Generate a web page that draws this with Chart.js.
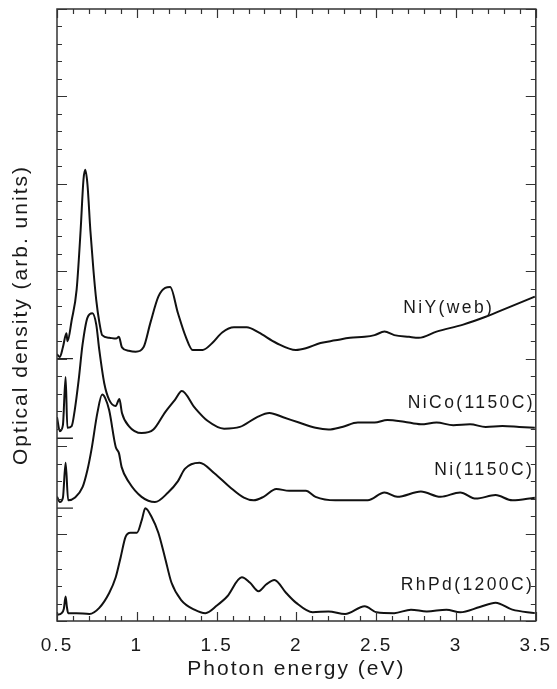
<!DOCTYPE html>
<html>
<head>
<meta charset="utf-8">
<script src="https://cdn.jsdelivr.net/npm/chart.js@4.4.1/dist/chart.umd.min.js"></script>
<style>
  html, body { margin: 0; padding: 0; background: #fff; }
  #box { width: 557px; height: 689px; }
</style>
</head>
<body>
<div id="box">
  <canvas id="myChart" width="557" height="689"></canvas>
</div>
<script>
// ---- data (photon energy in eV, optical density offset per curve) ----
const niyE = [0.5,0.518,0.537,0.559,0.566,0.592,0.623,0.648,0.666,0.677,0.691,0.709,0.728,0.746,0.765,0.783,0.827,0.870,0.888,0.907,0.950,0.993,1.042,1.085,1.135,1.178,1.209,1.258,1.307,1.350,1.412,1.473,1.535,1.609,1.689,1.763,1.874,1.997,2.059,2.151,2.244,2.336,2.428,2.490,2.552,2.613,2.706,2.767,2.878,3.045,3.186,3.334,3.494];
const niyOD = [3.05,3.02,3.13,3.29,3.20,3.44,3.79,4.47,5.05,5.16,4.99,4.47,4.02,3.67,3.42,3.27,3.24,3.23,3.25,3.13,3.09,3.08,3.13,3.41,3.71,3.81,3.82,3.52,3.25,3.10,3.10,3.18,3.30,3.36,3.36,3.30,3.18,3.10,3.12,3.18,3.21,3.24,3.25,3.27,3.31,3.27,3.25,3.24,3.31,3.39,3.48,3.59,3.71];

const nicoE = [0.5,0.518,0.537,0.554,0.565,0.592,0.611,0.636,0.660,0.691,0.722,0.746,0.765,0.796,0.827,0.868,0.891,0.907,0.950,1.030,1.104,1.178,1.239,1.282,1.363,1.443,1.547,1.646,1.751,1.831,1.917,2.016,2.120,2.201,2.287,2.385,2.490,2.570,2.675,2.780,2.878,2.983,3.088,3.186,3.291,3.396,3.494];
const nicoOD = [2.33,2.17,2.24,2.79,2.21,2.23,2.41,2.76,3.16,3.47,3.52,3.39,3.10,2.72,2.53,2.46,2.54,2.38,2.23,2.15,2.19,2.39,2.53,2.63,2.44,2.29,2.20,2.22,2.33,2.38,2.33,2.27,2.21,2.19,2.22,2.27,2.27,2.30,2.28,2.25,2.27,2.24,2.25,2.22,2.23,2.22,2.21];

const niE = [0.5,0.518,0.537,0.554,0.570,0.611,0.660,0.691,0.716,0.753,0.783,0.802,0.827,0.868,0.888,0.905,0.950,1.030,1.114,1.196,1.258,1.301,1.393,1.486,1.584,1.671,1.732,1.794,1.874,1.954,2.059,2.120,2.244,2.348,2.447,2.552,2.632,2.780,2.903,3.026,3.125,3.248,3.353,3.494];
const niOD = [1.42,1.36,1.41,1.81,1.38,1.41,1.53,1.73,1.96,2.38,2.59,2.55,2.41,1.99,1.92,1.76,1.59,1.42,1.36,1.47,1.60,1.74,1.81,1.69,1.53,1.41,1.38,1.42,1.51,1.49,1.49,1.42,1.38,1.38,1.38,1.47,1.42,1.48,1.42,1.47,1.40,1.44,1.38,1.41];

const rhpdE = [0.5,0.529,0.543,0.554,0.562,0.570,0.621,0.703,0.765,0.827,0.868,0.899,0.929,0.960,1.001,1.032,1.053,1.093,1.135,1.176,1.217,1.278,1.361,1.430,1.504,1.566,1.658,1.708,1.763,1.812,1.862,1.936,1.997,2.102,2.201,2.305,2.428,2.502,2.613,2.718,2.817,2.940,3.026,3.149,3.248,3.353,3.494];
const rhpdOD = [0.07,0.09,0.14,0.28,0.16,0.09,0.09,0.08,0.15,0.32,0.50,0.73,0.96,1.01,1.01,1.16,1.29,1.19,1.01,0.73,0.44,0.24,0.13,0.09,0.18,0.28,0.50,0.44,0.34,0.42,0.47,0.32,0.21,0.10,0.11,0.08,0.17,0.10,0.09,0.13,0.11,0.13,0.10,0.16,0.21,0.13,0.09];

const curveNames = ['NiY(web)', 'NiCo(1150C)', 'Ni(1150C)', 'RhPd(1200C)'];
const labelAt = [[3.225, 3.58], [3.48, 2.49], [3.475, 1.72], [3.475, 0.41]];  // right end / middle of each label
const baselineLevels = [3.0, 2.09, 1.29];
const baselineE = [0.5, 0.6];
const xTicks = [0.5, 1, 1.5, 2, 2.5, 3, 3.5];

const FONT = '"Liberation Sans", Arial, sans-serif';
const INK = '#1a1a1a';

function toPoints(xs, ys) {
    return xs.map((x, i) => ({x: x, y: ys[i]}));
}

const curves = [[niyE, niyOD], [nicoE, nicoOD], [niE, niOD], [rhpdE, rhpdOD]].map((c, i) => ({
    label: curveNames[i],
    data: toPoints(c[0], c[1]),
    borderColor: '#111',
    borderWidth: 2,
    pointRadius: 0,
    cubicInterpolationMode: 'monotone',
    fill: false
}));

const markers = baselineLevels.map((lev) => ({
    label: 'base',
    data: toPoints(baselineE, baselineE.map(() => lev)),
    borderColor: '#222',
    borderWidth: 1.3,
    pointRadius: 0,
    fill: false
}));

// frame, inward major/minor ticks on all four sides, curve names
const framePlugin = {
    id: 'frame',
    beforeUpdate(chart) { chart.ctx.letterSpacing = '2px'; },
    beforeDraw(chart) { chart.ctx.letterSpacing = '2px'; },
    afterDraw(chart) {
        const ctx = chart.ctx;
        const a = chart.chartArea;
        const xs = chart.scales.x, ys = chart.scales.y;
        ctx.save();
        ctx.strokeStyle = '#333';
        ctx.lineWidth = 1.5;
        ctx.strokeRect(a.left, a.top, a.right - a.left, a.bottom - a.top);
        ctx.lineWidth = 1.2;
        ctx.beginPath();
        for (let i = 0; i <= 30; i++) {
            const px = Math.round(xs.getPixelForValue(0.5 + i * 0.1)) + 0.5;
            const len = i % 5 === 0 ? 9 : 5;
            ctx.moveTo(px, a.bottom); ctx.lineTo(px, a.bottom - len);
            ctx.moveTo(px, a.top); ctx.lineTo(px, a.top + len);
        }
        for (let i = 0; i <= 35; i++) {
            const py = Math.round(ys.getPixelForValue(i * 0.2)) + 0.5;
            const len = i % 5 === 0 ? 10 : 5;
            ctx.moveTo(a.left, py); ctx.lineTo(a.left + len, py);
            ctx.moveTo(a.right, py); ctx.lineTo(a.right - len, py);
        }
        ctx.stroke();

        ctx.letterSpacing = '2.4px';
        ctx.fillStyle = INK;
        ctx.font = '17.5px ' + FONT;
        ctx.textAlign = 'right';
        ctx.textBaseline = 'middle';
        curveNames.forEach((name, i) => {
            ctx.fillText(name, xs.getPixelForValue(labelAt[i][0]) + 2.4, ys.getPixelForValue(labelAt[i][1]));
        });
        ctx.restore();
    }
};

const config = {
    type: 'line',
    data: { datasets: curves.concat(markers) },
    options: {
        responsive: false,
        animation: false,
        layout: { padding: { top: 9, right: 13, left: 0, bottom: 0 } },
        plugins: {
            legend: { display: false },
            tooltip: { enabled: false },
            title: { display: false }
        },
        scales: {
            x: {
                type: 'linear',
                min: 0.5,
                max: 3.5,
                afterBuildTicks: (scale) => { scale.ticks = xTicks.map(v => ({value: v})); },
                afterFit: (scale) => { scale.height = 68; },
                grid: { display: false },
                border: { display: false },
                ticks: {
                    color: INK,
                    padding: 5,
                    maxRotation: 0,
                    font: { family: FONT, size: 19 },
                    callback: (v) => String(v)
                },
                title: {
                    display: true,
                    text: 'Photon energy (eV)',
                    color: INK,
                    font: { family: FONT, size: 21 },
                    padding: { top: 0, bottom: 7 }
                }
            },
            y: {
                type: 'linear',
                min: 0,
                max: 7,
                afterFit: (scale) => { scale.width = 57; },
                grid: { display: false },
                border: { display: false },
                ticks: { display: false },
                title: {
                    display: true,
                    text: 'Optical density (arb. units)',
                    color: INK,
                    font: { family: FONT, size: 21 },
                    padding: { top: 9, bottom: 0 }
                }
            }
        }
    },
    plugins: [framePlugin]
};

const myChart = new Chart(
    document.getElementById('myChart').getContext('2d'),
    config
);
</script>
</body>
</html>
